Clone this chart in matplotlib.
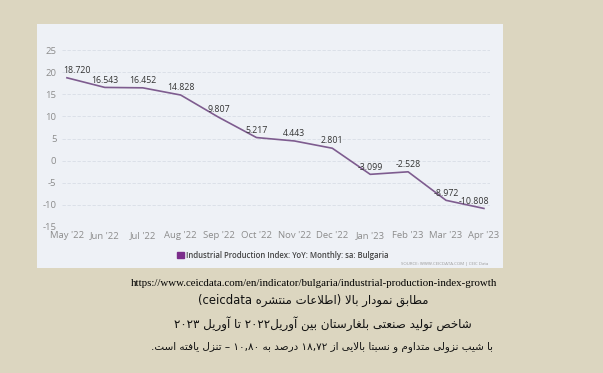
import re
import matplotlib
matplotlib.use("Agg")
import matplotlib.pyplot as plt
from matplotlib.patches import Rectangle, Patch

plt.rcParams["axes.unicode_minus"] = False

# data
months = ["May '22", "Jun '22", "Jul '22", "Aug '22", "Sep '22", "Oct '22",
          "Nov '22", "Dec '22", "Jan '23", "Feb '23", "Mar '23", "Apr '23"]
values = [18.720, 16.543, 16.452, 14.828, 9.807, 5.217,
          4.443, 2.801, -3.099, -2.528, -8.972, -10.808]
yticks = [25, 20, 15, 10, 5, 0, -5, -10, -15]
series_name = "Industrial Production Index: YoY: Monthly: sa: Bulgaria"
source_note = "SOURCE: WWW.CEICDATA.COM | CEIC Data"
url = "https://www.ceicdata.com/en/indicator/bulgaria/industrial-production-index-growth"
caption = [
    "مطابق نمودار بالا (اطلاعات منتشره ceicdata)",
    "شاخص تولید صنعتی بلغارستان بین آوریل۲۰۲۲ تا آوریل ۲۰۲۳",
    "با شیب نزولی متداوم و نسبتا بالایی از ۱۸,۷۲ درصد به ۱۰,۸۰ – تنزل یافته است.",
]

# --- tiny arabic/persian shaper (matplotlib does no shaping itself) ---
# char -> (isolated, final, initial, medial); right-joining letters have no initial/medial
FORMS = {
    "ا": ("\uFE8D", "\uFE8E", None, None), "آ": ("\uFE81", "\uFE82", None, None),
    "ب": ("\uFE8F", "\uFE90", "\uFE91", "\uFE92"), "پ": ("\uFB56", "\uFB57", "\uFB58", "\uFB59"),
    "ت": ("\uFE95", "\uFE96", "\uFE97", "\uFE98"), "ث": ("\uFE99", "\uFE9A", "\uFE9B", "\uFE9C"),
    "ج": ("\uFE9D", "\uFE9E", "\uFE9F", "\uFEA0"), "چ": ("\uFB7A", "\uFB7B", "\uFB7C", "\uFB7D"),
    "ح": ("\uFEA1", "\uFEA2", "\uFEA3", "\uFEA4"), "خ": ("\uFEA5", "\uFEA6", "\uFEA7", "\uFEA8"),
    "د": ("\uFEA9", "\uFEAA", None, None), "ذ": ("\uFEAB", "\uFEAC", None, None),
    "ر": ("\uFEAD", "\uFEAE", None, None), "ز": ("\uFEAF", "\uFEB0", None, None),
    "ژ": ("\uFB8A", "\uFB8B", None, None),
    "س": ("\uFEB1", "\uFEB2", "\uFEB3", "\uFEB4"), "ش": ("\uFEB5", "\uFEB6", "\uFEB7", "\uFEB8"),
    "ص": ("\uFEB9", "\uFEBA", "\uFEBB", "\uFEBC"), "ض": ("\uFEBD", "\uFEBE", "\uFEBF", "\uFEC0"),
    "ط": ("\uFEC1", "\uFEC2", "\uFEC3", "\uFEC4"), "ظ": ("\uFEC5", "\uFEC6", "\uFEC7", "\uFEC8"),
    "ع": ("\uFEC9", "\uFECA", "\uFECB", "\uFECC"), "غ": ("\uFECD", "\uFECE", "\uFECF", "\uFED0"),
    "ف": ("\uFED1", "\uFED2", "\uFED3", "\uFED4"), "ق": ("\uFED5", "\uFED6", "\uFED7", "\uFED8"),
    "ک": ("\uFB8E", "\uFB8F", "\uFB90", "\uFB91"), "گ": ("\uFB92", "\uFB93", "\uFB94", "\uFB95"),
    "ل": ("\uFEDD", "\uFEDE", "\uFEDF", "\uFEE0"), "م": ("\uFEE1", "\uFEE2", "\uFEE3", "\uFEE4"),
    "ن": ("\uFEE5", "\uFEE6", "\uFEE7", "\uFEE8"), "ه": ("\uFEE9", "\uFEEA", "\uFEEB", "\uFEEC"),
    "و": ("\uFEED", "\uFEEE", None, None), "ی": ("\uFBFC", "\uFBFD", "\uFBFE", "\uFBFF"),
}
LAM_ALEF = {"ا": ("\uFEFB", "\uFEFC"), "آ": ("\uFEF5", "\uFEF6")}
MIRROR = {"(": ")", ")": "("}


def shape(seg):
    out = []
    i = 0
    while i < len(seg):
        c = seg[i]
        if c not in FORMS:
            out.append(c)
            i += 1
            continue
        prev = seg[i - 1] if i > 0 else ""
        nxt = seg[i + 1] if i + 1 < len(seg) else ""
        join_prev = prev in FORMS and FORMS[prev][2] is not None
        if c == "ل" and nxt in LAM_ALEF:
            out.append(LAM_ALEF[nxt][1 if join_prev else 0])
            i += 2
            continue
        join_next = FORMS[c][2] is not None and nxt in FORMS
        iso, fin, ini, med = FORMS[c]
        if join_prev and join_next:
            out.append(med)
        elif join_prev:
            out.append(fin)
        elif join_next:
            out.append(ini)
        else:
            out.append(iso)
        i += 1
    return "".join(out)


def visual(line):
    # paragraph is RTL; latin words and numbers stay LTR inside
    parts = re.split(r"([A-Za-z0-9\u06F0-\u06F9]+(?:[.,][A-Za-z0-9\u06F0-\u06F9]+)*)", line)
    runs = []
    for k, p in enumerate(parts):
        if k % 2:
            runs.append(p)
        else:
            runs.append("".join(MIRROR.get(ch, ch) for ch in reversed(shape(p))))
    return "".join(reversed(runs))


fig = plt.figure(figsize=(6.03, 3.73), dpi=100, facecolor="#dcd6c0")
W, H = 603, 373
fig.patches.append(Rectangle((37 / W, 1 - 268 / H), (503 - 37) / W, (268 - 24) / H,
                             transform=fig.transFigure, facecolor="#eef1f6",
                             edgecolor="none", zorder=-5))

ax = fig.add_axes([62 / W, 1 - 227 / H, (490 - 62) / W, (227 - 50) / H])
ax.set_zorder(2)
ax.set_facecolor("none")
x = list(range(len(months)))
ax.plot(x, values, color="#7e5c8f", lw=1.2, clip_on=False, zorder=3)

for i, v in enumerate(values):
    if i == 0:
        ha, dx = "left", -3
    elif i == len(values) - 1:
        ha, dx = "right", 4
    else:
        ha, dx = "center", 0
    ax.annotate(f"{v:.3f}", (i, v), xytext=(dx, 2), textcoords="offset points",
                ha=ha, va="bottom", fontsize=6.3, color="#333333", family="Open Sans")

ax.set_xlim(-0.13, 11.16)
ax.set_ylim(-15, 25)
ax.set_yticks(yticks)
ax.set_xticks(x)
ax.set_xticklabels(months)
ax.tick_params(length=0, colors="#8c8c8c", labelsize=6.8)
ax.tick_params(axis="y", pad=4)
ax.tick_params(axis="x", pad=3)
for lab in ax.get_xticklabels() + ax.get_yticklabels():
    lab.set_family("Open Sans")
ax.grid(axis="y", color="#d8dde6", linestyle=(0, (4, 2)), linewidth=0.6)
ax.grid(axis="x", visible=False)
for s in ax.spines.values():
    s.set_visible(False)

fig.legend(handles=[Patch(color="#7b2d8b", label=series_name)], loc="center",
           bbox_to_anchor=(283 / W, 1 - 255 / H), frameon=False,
           prop={"family": "Open Sans", "size": 5.6, "weight": "semibold"},
           labelcolor="#444444", handlelength=0.9, handleheight=0.8,
           handletextpad=0.3)
fig.text(488 / W, 1 - 264 / H, source_note, fontsize=3.2, ha="right", va="center",
         color="#9a9a9a", family="Open Sans")

fig.text(314 / W, 1 - 283 / H, url, family="Liberation Serif", fontsize=7.8,
         ha="center", va="center", color="black")
for txt, cx, cy, fs in zip(caption, [313, 323, 322], [300, 324, 347], [8.4, 8.6, 7.5]):
    fig.text(cx / W, 1 - cy / H, visual(txt), family="DejaVu Sans", fontsize=fs,
             ha="center", va="center", color="#111111")

fig.savefig("out.png", dpi=100, facecolor=fig.get_facecolor())
